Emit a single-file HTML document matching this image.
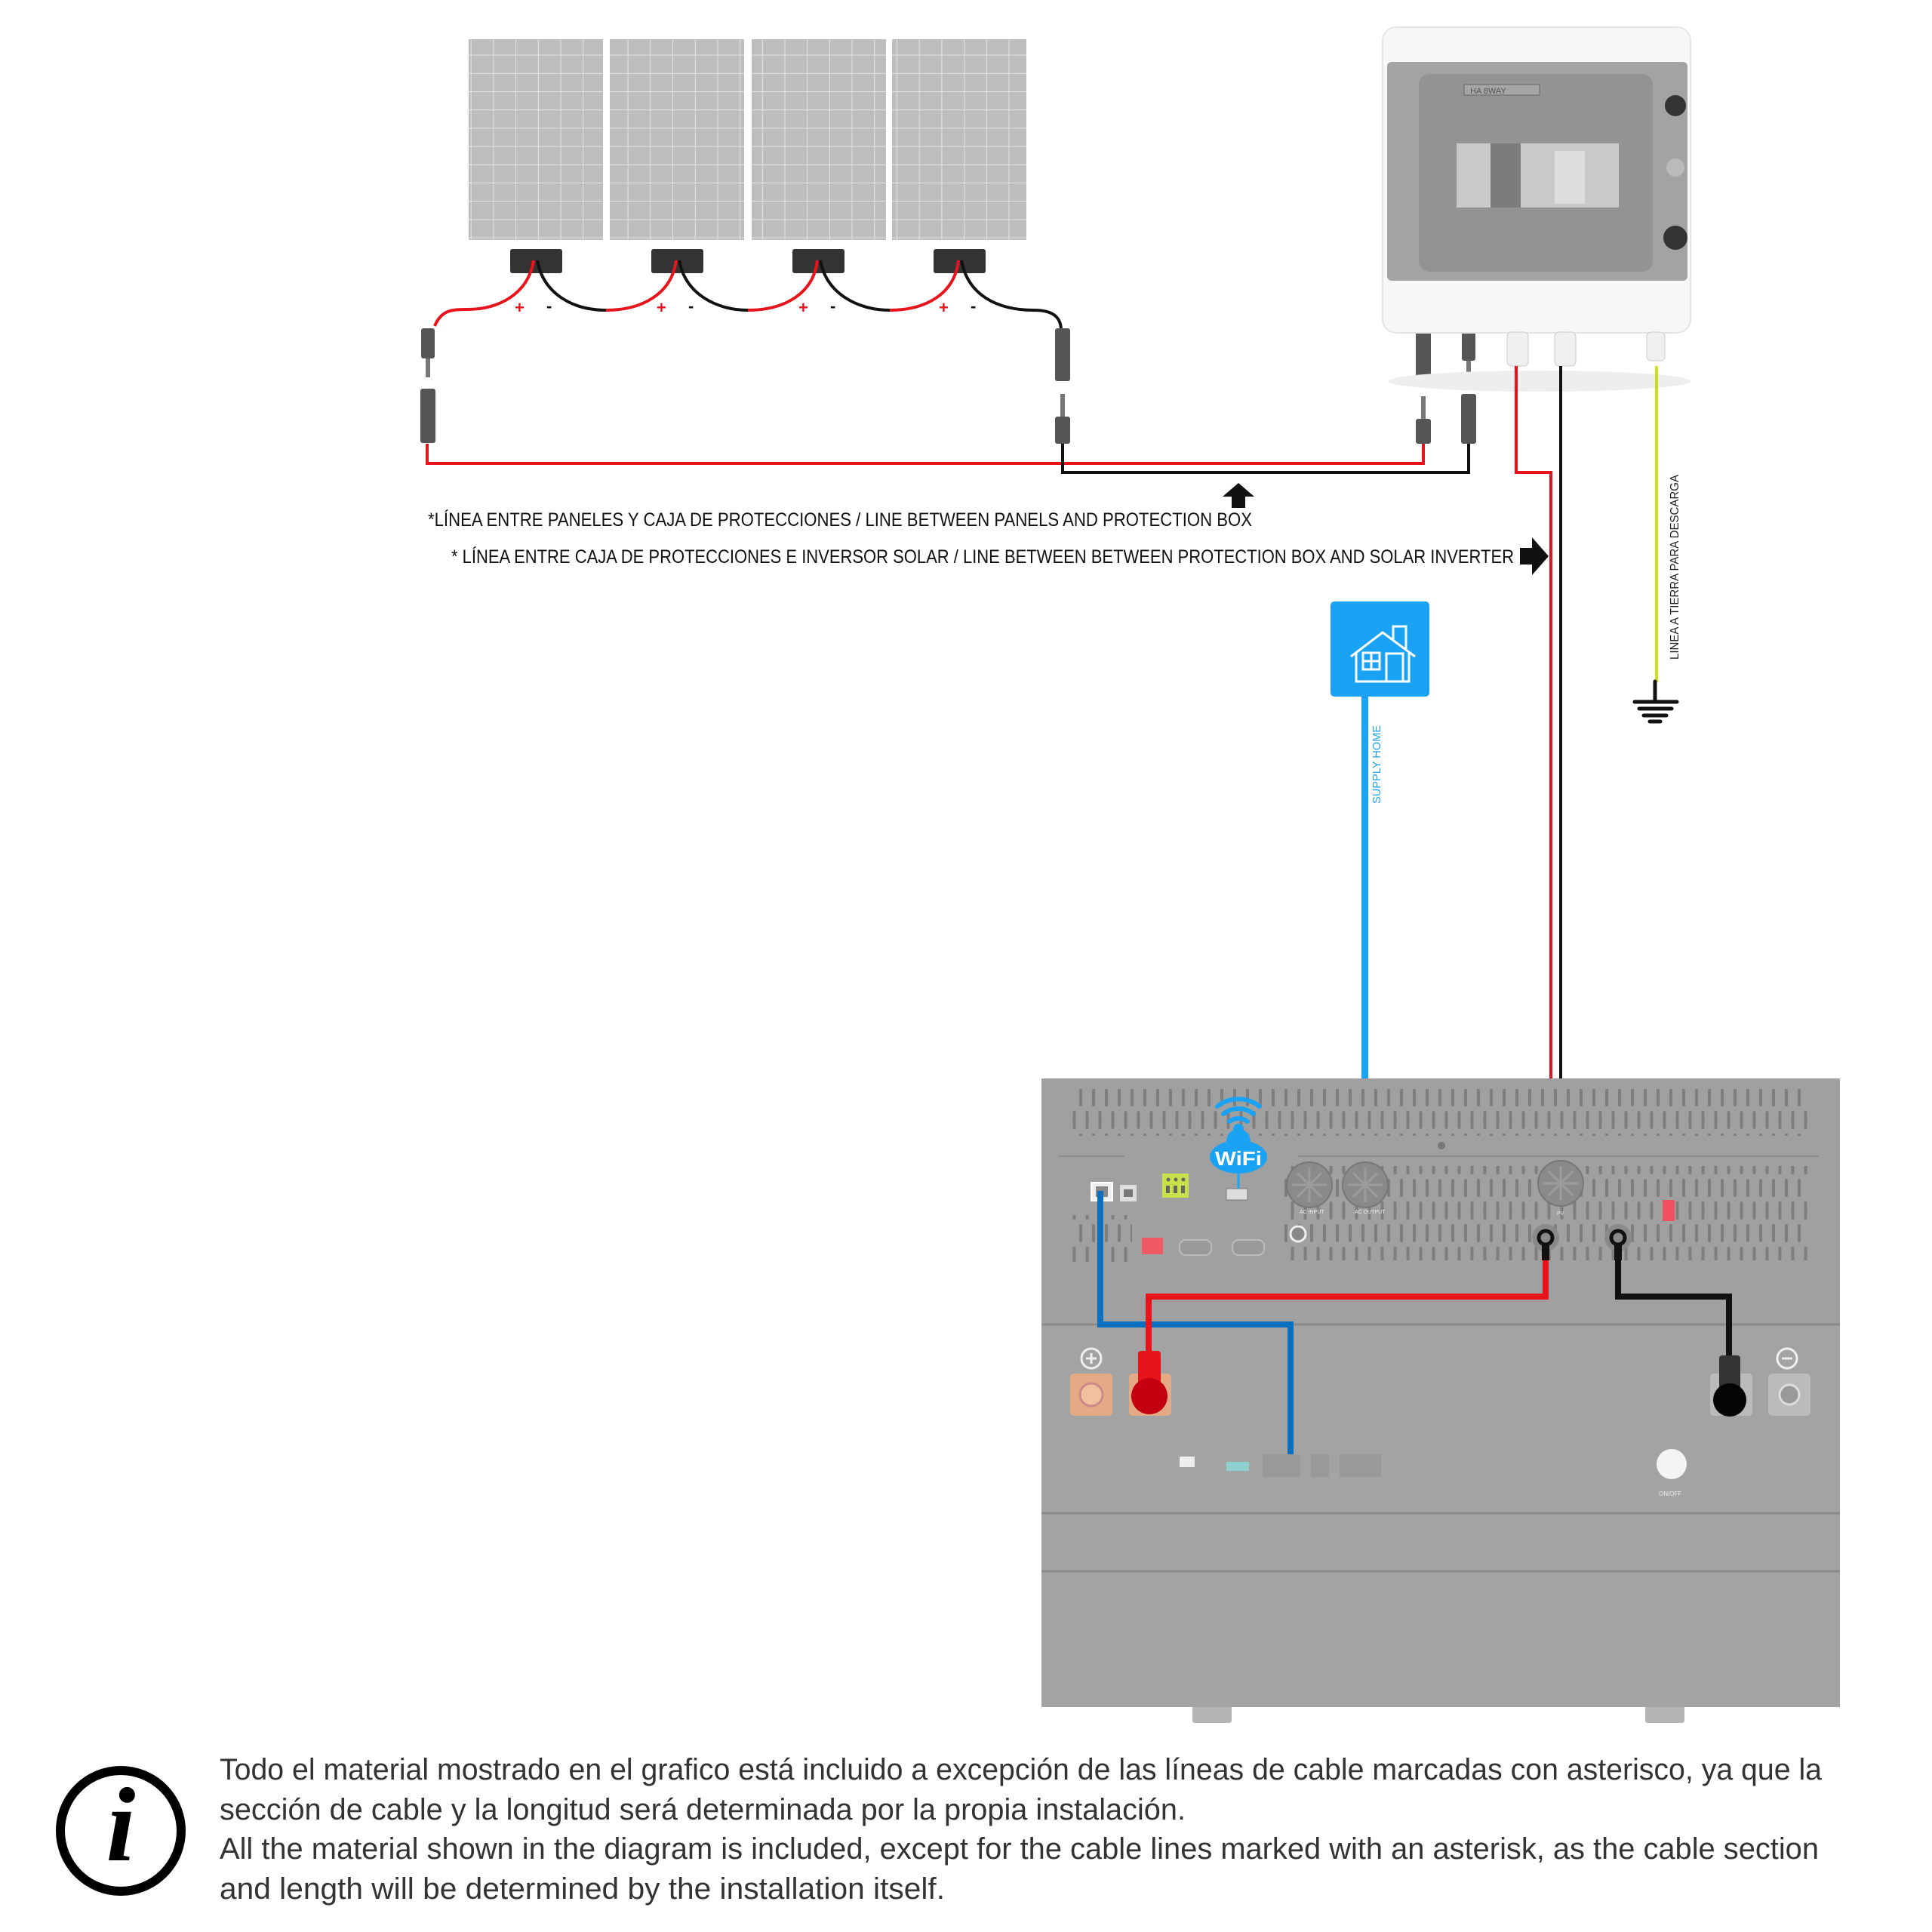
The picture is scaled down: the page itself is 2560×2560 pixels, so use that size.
<!DOCTYPE html>
<html><head><meta charset="utf-8"><style>
html,body{margin:0;padding:0;background:#fff;}
svg{display:block}
</style></head><body>
<svg width="2560" height="2560" viewBox="0 0 2560 2560" xmlns="http://www.w3.org/2000/svg" font-family="'Liberation Sans', sans-serif">
<defs>
<pattern id="cell" width="29.7" height="24.2" patternUnits="userSpaceOnUse">
<rect width="29.7" height="24.2" fill="#bdbdbd"/>
<path d="M0 0H29.7M0 0V24.2" stroke="#e4e4e4" stroke-width="2"/>
</pattern>
<pattern id="vent" width="17" height="60" patternUnits="userSpaceOnUse">
<rect x="2" y="2" width="4" height="24" rx="2" fill="#7e7e7e"/>
<rect x="10.5" y="32" width="4" height="24" rx="2" fill="#7e7e7e"/>
</pattern>
</defs>
<rect width="2560" height="2560" fill="#fff"/>

<!-- solar panels -->
<rect x="621" y="52" width="178" height="266" fill="url(#cell)"/>
<rect x="808" y="52" width="178" height="266" fill="url(#cell)"/>
<rect x="996" y="52" width="178" height="266" fill="url(#cell)"/>
<rect x="1182" y="52" width="178" height="266" fill="url(#cell)"/>
<g fill="#333">
<rect x="676" y="330" width="69" height="32" rx="3"/>
<rect x="863" y="330" width="69" height="32" rx="3"/>
<rect x="1050" y="330" width="69" height="32" rx="3"/>
<rect x="1237" y="330" width="69" height="32" rx="3"/>
</g>
<!-- panel wiring -->
<g fill="none" stroke-width="4">
<path d="M576 432 C585 410,600 410,620 410 C660 410,700 390,707 345" stroke="#e8141c"/>
<path d="M712 345 C720 390,760 411,803 411" stroke="#111"/>
<path d="M803 411 C850 411,890 390,896 345" stroke="#e8141c"/>
<path d="M900 345 C908 390,950 411,991 411" stroke="#111"/>
<path d="M991 411 C1038 411,1078 390,1083 345" stroke="#e8141c"/>
<path d="M1087 345 C1095 390,1138 411,1179 411" stroke="#111"/>
<path d="M1179 411 C1226 411,1265 390,1270 345" stroke="#e8141c"/>
<path d="M1274 345 C1282 390,1320 411,1370 411 C1395 411,1405 420,1406 436" stroke="#111"/>
</g>
<g font-size="22" font-weight="bold">
<text x="682" y="415" fill="#e8141c">+</text><text x="724" y="413" fill="#111">-</text>
<text x="870" y="415" fill="#e8141c">+</text><text x="912" y="413" fill="#111">-</text>
<text x="1058" y="415" fill="#e8141c">+</text><text x="1100" y="413" fill="#111">-</text>
<text x="1244" y="415" fill="#e8141c">+</text><text x="1286" y="413" fill="#111">-</text>
</g>
<!-- MC4 connectors -->
<g fill="#555">
<rect x="558" y="435" width="18" height="40" rx="3"/><rect x="564" y="475" width="6" height="25" fill="#777"/>
<rect x="557" y="515" width="20" height="72" rx="3"/>
<rect x="1398" y="435" width="20" height="70" rx="3"/>
<rect x="1405" y="522" width="6" height="30" fill="#777"/><rect x="1398" y="552" width="20" height="36" rx="3"/>
<rect x="1876" y="438" width="20" height="68" rx="3"/><rect x="1937" y="438" width="18" height="40" rx="3"/><rect x="1943" y="478" width="6" height="24" fill="#777"/>
<rect x="1883" y="525" width="6" height="30" fill="#777"/><rect x="1876" y="555" width="20" height="33" rx="3"/>
<rect x="1936" y="522" width="20" height="66" rx="3"/>
</g>
<!-- panel-box cables -->
<path d="M566 588 V614 H1886 V588" fill="none" stroke="#e8141c" stroke-width="4"/>
<path d="M1408 588 V626 H1946 V588" fill="none" stroke="#111" stroke-width="4"/>
<path d="M1641 640 L1620 658 H1632 V673 H1650 V658 H1662 Z" fill="#111"/>

<!-- protection box -->
<ellipse cx="2040" cy="505" rx="200" ry="14" fill="#eee"/>
<rect x="1832" y="36" width="408" height="405" rx="18" fill="#f7f7f7" stroke="#e4e4e4" stroke-width="2"/>
<rect x="1838" y="82" width="398" height="290" rx="6" fill="#a3a3a3"/>
<rect x="1880" y="98" width="310" height="262" rx="14" fill="#939393"/>
<rect x="1940" y="112" width="100" height="14" fill="#a6a6a6" stroke="#666" stroke-width="1"/>
<text x="1948" y="124" font-size="11" fill="#555">HA 8WAY</text>
<rect x="1930" y="190" width="215" height="85" fill="#c9c9c9"/>
<rect x="1975" y="190" width="40" height="85" fill="#7c7c7c"/>
<rect x="2060" y="200" width="40" height="70" fill="#ddd"/>
<circle cx="2220" cy="140" r="14" fill="#333"/><circle cx="2220" cy="222" r="12" fill="#bbb"/><circle cx="2220" cy="315" r="16" fill="#333"/>
<g fill="#f0f0f0" stroke="#ccc">
<rect x="1997" y="440" width="28" height="45" rx="6"/><rect x="2060" y="440" width="28" height="45" rx="6"/><rect x="2182" y="440" width="24" height="38" rx="6"/>
</g>
<!-- red/black cables to inverter -->
<path d="M2009 485 V626 H2055 V1565" fill="none" stroke="#e8141c" stroke-width="4"/>
<path d="M2068 485 V1565" fill="none" stroke="#111" stroke-width="4"/>
<!-- ground -->
<path d="M2195 485 V904" stroke="#c8e01a" stroke-width="4"/>
<path d="M2193 903 V930 M2166 930 H2222 M2172 939 H2215 M2178 948 H2208 M2186 956 H2200" stroke="#111" stroke-width="5" stroke-linecap="round"/>
<text transform="translate(2224,874) rotate(-90)" font-size="16" fill="#222" textLength="245" lengthAdjust="spacingAndGlyphs">LINEA A TIERRA PARA DESCARGA</text>

<!-- labels -->
<text x="567" y="697" font-size="25" fill="#111" textLength="1092" lengthAdjust="spacingAndGlyphs">*LÍNEA ENTRE PANELES Y CAJA DE PROTECCIONES / LINE BETWEEN  PANELS AND PROTECTION BOX</text>
<text x="598" y="746" font-size="25" fill="#111" textLength="1408" lengthAdjust="spacingAndGlyphs">* LÍNEA ENTRE CAJA DE PROTECCIONES E INVERSOR SOLAR / LINE BETWEEN  BETWEEN PROTECTION BOX AND SOLAR INVERTER</text>
<path d="M2014 726 H2030 V712 L2052 737 L2030 762 V748 H2014 Z" fill="#111"/>

<!-- house -->
<rect x="1763" y="797" width="131" height="126" rx="5" fill="#1aa3f5"/>
<g fill="none" stroke="#fff" stroke-width="3">
<path d="M1790 870 L1832 838 L1875 870 M1797 865 V903 H1867 V865"/>
<path d="M1846 848 V830 H1863 V860"/>
<rect x="1806" y="865" width="22" height="22"/><path d="M1817 865 V887 M1806 876 H1828"/>
<rect x="1837" y="866" width="22" height="37"/>
</g>
<rect x="1804" y="923" width="9" height="645" fill="#1aa3f5"/>
<text transform="translate(1829,1065) rotate(-90)" font-size="15" fill="#1aa3f5" textLength="104" lengthAdjust="spacingAndGlyphs">SUPPLY HOME</text>

<!-- inverter -->
<rect x="1580" y="2255" width="52" height="28" rx="3" fill="#b5b5b5"/>
<rect x="2180" y="2255" width="52" height="28" rx="3" fill="#b5b5b5"/>
<rect x="1380" y="1429" width="1058" height="833" fill="#a3a3a3"/>
<rect x="1380" y="1429" width="1058" height="326" fill="#a0a0a0"/>
<path d="M1380 1755 H2438 M1380 2005 H2438 M1380 2082 H2438" stroke="#8a8a8a" stroke-width="3"/>
<path d="M1403 1532 H2410" stroke="#8c8c8c" stroke-width="2"/>
<rect x="1420" y="1443" width="975" height="62" fill="url(#vent)"/>
<rect x="1700" y="1545" width="695" height="125" fill="url(#vent)"/>
<rect x="1420" y="1610" width="80" height="62" fill="url(#vent)"/>
<rect x="1490" y="1528" width="230" height="8" fill="#a0a0a0"/>
<circle cx="1910" cy="1518" r="5" fill="#777"/>
<!-- ports -->
<rect x="1446" y="1567" width="28" height="24" fill="#eee" stroke="#fff" stroke-width="2"/><rect x="1452" y="1572" width="16" height="14" fill="#888"/>
<rect x="1484" y="1570" width="22" height="22" fill="#ddd"/><rect x="1489" y="1576" width="12" height="10" fill="#777"/>
<rect x="1540" y="1555" width="35" height="32" fill="#c8e04a"/>
<g fill="#666"><circle cx="1548" cy="1563" r="2.5"/><circle cx="1558" cy="1563" r="2.5"/><circle cx="1568" cy="1563" r="2.5"/><rect x="1545" y="1571" width="5" height="10"/><rect x="1555" y="1571" width="5" height="10"/><rect x="1565" y="1571" width="5" height="10"/></g>
<rect x="1625" y="1575" width="28" height="15" fill="#ddd" stroke="#777"/>
<rect x="1513" y="1640" width="28" height="22" fill="#ef5a62"/>
<rect x="1563" y="1643" width="42" height="20" rx="8" fill="#999" stroke="#bbb" stroke-width="2"/>
<rect x="1633" y="1643" width="42" height="20" rx="8" fill="#999" stroke="#bbb" stroke-width="2"/>
<circle cx="1720" cy="1635" r="10" fill="#888" stroke="#eee" stroke-width="3"/>
<!-- fans -->
<g fill="#8a8a8a" stroke="#777" stroke-width="2">
<circle cx="1735" cy="1570" r="30"/><circle cx="1809" cy="1570" r="30"/><circle cx="2068" cy="1568" r="30"/>
</g>
<g stroke="#9c9c9c" stroke-width="3">
<path d="M1712 1570H1758M1735 1547V1593M1719 1554L1751 1586M1751 1554L1719 1586"/>
<path d="M1786 1570H1832M1809 1547V1593M1793 1554L1825 1586M1825 1554L1793 1586"/>
<path d="M2045 1568H2091M2068 1545V1591M2052 1552L2084 1584M2084 1552L2052 1584"/>
</g>
<g font-size="7" fill="#eee"><text x="1722" y="1608">AC INPUT</text><text x="1795" y="1608">AC OUTPUT</text><text x="2063" y="1610">PV</text></g>
<rect x="2203" y="1590" width="16" height="28" fill="#f05060"/>
<g fill="#8a8a8a"><circle cx="2048" cy="1640" r="18"/><circle cx="2144" cy="1640" r="18"/></g>
<!-- wifi -->
<g fill="none" stroke="#1aa3f5" stroke-width="6" stroke-linecap="round">
<path d="M1613 1466 A45 45 0 0 1 1669 1466"/><path d="M1621 1476 A32 32 0 0 1 1661 1476"/><path d="M1629 1486 A20 20 0 0 1 1653 1486"/>
</g>
<circle cx="1641" cy="1496" r="7" fill="#1aa3f5"/>
<ellipse cx="1641" cy="1533" rx="38" ry="22" fill="#1aa3f5"/>
<circle cx="1641" cy="1512" r="16" fill="#1aa3f5"/>
<text x="1610" y="1544" font-size="26" font-weight="bold" fill="#fff" textLength="62" lengthAdjust="spacingAndGlyphs">WiFi</text>
<path d="M1641 1555 V1575" stroke="#1aa3f5" stroke-width="3"/>
<!-- inverter wiring -->
<path d="M1458 1578 V1755 H1710 V1935" fill="none" stroke="#0a6fbf" stroke-width="8"/>
<path d="M2048 1650 V1718 H1522 V1800" fill="none" stroke="#e8141c" stroke-width="8"/>
<path d="M2144 1650 V1718 H2291 V1800" fill="none" stroke="#111" stroke-width="8"/>
<circle cx="2048" cy="1640" r="9" fill="none" stroke="#111" stroke-width="5"/><rect x="2043" y="1648" width="10" height="22" fill="#111"/>
<circle cx="2144" cy="1640" r="9" fill="none" stroke="#111" stroke-width="5"/><rect x="2139" y="1648" width="10" height="22" fill="#111"/>
<!-- terminals -->
<rect x="1418" y="1820" width="56" height="56" rx="5" fill="#e3aa85"/><circle cx="1446" cy="1848" r="15" fill="#f0c0a0" stroke="#c88" stroke-width="3"/>
<rect x="1496" y="1820" width="56" height="56" rx="5" fill="#e3aa85"/>
<circle cx="1446" cy="1800" r="13" fill="none" stroke="#eee" stroke-width="3"/><path d="M1439 1800H1453M1446 1793V1807" stroke="#eee" stroke-width="3"/>
<rect x="1508" y="1790" width="30" height="45" rx="4" fill="#e8141c"/><circle cx="1523" cy="1850" r="24" fill="#c40010"/>
<rect x="2266" y="1820" width="56" height="56" rx="5" fill="#bbb"/>
<rect x="2343" y="1820" width="56" height="56" rx="5" fill="#bbb"/><circle cx="2371" cy="1848" r="13" fill="#999" stroke="#ddd" stroke-width="3"/>
<circle cx="2368" cy="1800" r="13" fill="none" stroke="#eee" stroke-width="3"/><path d="M2361 1800H2375" stroke="#eee" stroke-width="3"/>
<rect x="2278" y="1796" width="28" height="45" rx="4" fill="#333"/><circle cx="2292" cy="1855" r="22" fill="#050505"/>
<!-- bottom ports -->
<rect x="1563" y="1930" width="20" height="14" fill="#eee"/>
<rect x="1625" y="1937" width="30" height="12" fill="#8fd0d0"/>
<rect x="1673" y="1927" width="50" height="30" fill="#999"/><rect x="1737" y="1927" width="24" height="30" fill="#999"/><rect x="1775" y="1927" width="55" height="30" fill="#999"/>
<circle cx="2215" cy="1940" r="20" fill="#f4f4f4"/>
<text x="2198" y="1982" font-size="8" fill="#eee">ON/OFF</text>

<!-- info -->
<circle cx="160" cy="2426" r="80" fill="none" stroke="#000" stroke-width="12"/>
<text x="160" y="2465" font-family="'Liberation Serif', serif" font-style="italic" font-weight="bold" font-size="140" text-anchor="middle" fill="#000">i</text>
<g font-size="40" fill="#333">
<text x="291" y="2358" textLength="2123" lengthAdjust="spacingAndGlyphs">Todo el material mostrado en el grafico está incluido a excepción de las líneas de cable marcadas con asterisco, ya que la</text>
<text x="291" y="2411" textLength="1280" lengthAdjust="spacingAndGlyphs">sección de cable y la longitud será determinada por la propia instalación.</text>
<text x="291" y="2463" textLength="2119" lengthAdjust="spacingAndGlyphs">All the material shown in the diagram is included, except for the cable lines marked with an asterisk, as the cable section</text>
<text x="291" y="2516" textLength="961" lengthAdjust="spacingAndGlyphs">and length will be determined by the installation itself.</text>
</g>
</svg>
</body></html>
